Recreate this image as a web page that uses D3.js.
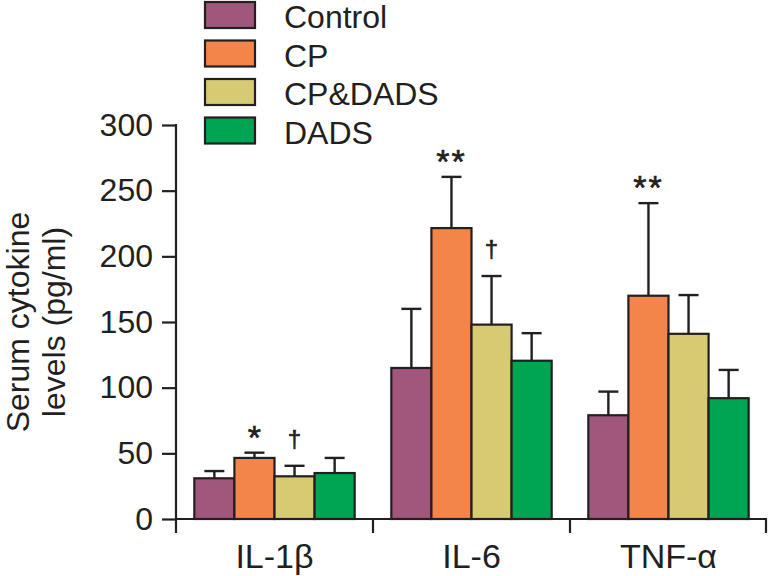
<!DOCTYPE html>
<html><head><meta charset="utf-8">
<script src="https://cdn.jsdelivr.net/npm/d3@7"></script>
<style>body{margin:0;background:#fff;} svg{display:block;font-family:"Liberation Sans",Arial,sans-serif;}</style>
</head><body>
<svg id="chart" width="768" height="576"></svg>
<script>
const categories = ["IL-1\u03B2", "IL-6", "TNF-\u03B1"];
const groups = ["Control", "CP", "CP&DADS", "DADS"];
const colors = ["#a1567b", "#f3854a", "#d6cb72", "#00a551"];
const meanControl = [31, 115, 79];
const meanCP = [46.5, 221.5, 170];
const meanCPDADS = [32.5, 148, 141];
const meanDADS = [35, 120.5, 92];
const errControl = [36.5, 160, 97];
const errCP = [50.5, 260.5, 240.5];
const errCPDADS = [40.5, 185, 170.5];
const errDADS = [46.5, 141.5, 113.5];
const markCP = ["*", "**", "**"];
const markCPDADS = ["\u2020", "\u2020", ""];
const yTicks = [0, 50, 100, 150, 200, 250, 300];

const means = [meanControl, meanCP, meanCPDADS, meanDADS];
const errs = [errControl, errCP, errCPDADS, errDADS];
const marks = [["","",""], markCP, markCPDADS, ["","",""]];

const svg = d3.select("#chart");
const ink = "#231f20";
const y = d3.scaleLinear().domain([0, 300]).range([519, 125]);
const x0 = d3.scaleBand().domain(categories).range([176, 767]).paddingInner(0.186).paddingOuter(0.093);
const x1 = d3.scaleBand().domain(groups).range([0, x0.bandwidth()]);

const data = [];
categories.forEach((c, ci) => groups.forEach((g, gi) => {
  data.push({c, g, gi, v: means[gi][ci], e: errs[gi][ci], m: marks[gi][ci]});
}));

const gBars = svg.append("g");
const eb = gBars.selectAll("g.eb").data(data).join("g");
eb.append("line")
  .attr("x1", d => x0(d.c) + x1(d.g) + x1.bandwidth()/2)
  .attr("x2", d => x0(d.c) + x1(d.g) + x1.bandwidth()/2)
  .attr("y1", d => y(d.v)).attr("y2", d => y(d.e))
  .attr("stroke", ink).attr("stroke-width", 2.4);
eb.append("line")
  .attr("x1", d => x0(d.c) + x1(d.g) + x1.bandwidth()/2 - 10)
  .attr("x2", d => x0(d.c) + x1(d.g) + x1.bandwidth()/2 + 10)
  .attr("y1", d => y(d.e)).attr("y2", d => y(d.e))
  .attr("stroke", ink).attr("stroke-width", 2.4);

gBars.selectAll("rect").data(data).join("rect")
  .attr("x", d => x0(d.c) + x1(d.g))
  .attr("y", d => y(d.v))
  .attr("width", x1.bandwidth())
  .attr("height", d => y(0) - y(d.v))
  .attr("fill", d => colors[d.gi])
  .attr("stroke", ink).attr("stroke-width", 2.2);

gBars.selectAll("text.mk").data(data.filter(d => d.m)).join("text")
  .attr("class", "mk")
  .attr("x", d => x0(d.c) + x1(d.g) + x1.bandwidth()/2)
  .attr("y", d => d.m === "\u2020" ? y(d.e) - 19 : y(d.e) - 4)
  .attr("text-anchor", "middle")
  .attr("font-size", d => d.m === "\u2020" ? 24 : 34)
  .attr("letter-spacing", d => d.m === "**" ? 2 : 0)
  .attr("fill", ink).attr("stroke", ink).attr("stroke-width", 0.6)
  .text(d => d.m);

const yAxis = d3.axisLeft(y).tickValues(yTicks).tickSize(14).tickPadding(9).tickSizeOuter(0);
const gy = svg.append("g").attr("transform", "translate(176,0)").call(yAxis);
gy.select(".domain").remove();
gy.append("line").attr("x1", 0).attr("x2", 0).attr("y1", y(300) - 1).attr("y2", 533)
  .attr("stroke", ink).attr("stroke-width", 2.2);
gy.selectAll(".tick line").attr("stroke", ink).attr("stroke-width", 2.2);
gy.selectAll(".tick text").attr("font-size", 32).attr("fill", ink)
  .attr("font-family", "Liberation Sans, Arial, sans-serif");

const gx = svg.append("g");
gx.append("line").attr("x1", 176).attr("x2", 767).attr("y1", y(0)).attr("y2", y(0))
  .attr("stroke", ink).attr("stroke-width", 2.2);
const bounds = categories.map(c => x0(c) + x0.bandwidth() + x0.step() * x0.paddingInner() / 2);
gx.selectAll("line.sep").data(bounds).join("line")
  .attr("x1", d => Math.min(d, 766)).attr("x2", d => Math.min(d, 766))
  .attr("y1", y(0)).attr("y2", 533)
  .attr("stroke", ink).attr("stroke-width", 2.2);
gx.selectAll("text").data(categories).join("text")
  .attr("x", d => x0(d) + x0.bandwidth()/2)
  .attr("y", 568)
  .attr("text-anchor", "middle")
  .attr("font-size", 34).attr("fill", ink)
  .text(d => d);

const yl = svg.append("text").attr("transform", "translate(0,322) rotate(-90)")
  .attr("text-anchor", "middle").attr("font-size", 32).attr("fill", ink);
yl.append("tspan").attr("x", 0).attr("y", 29).text("Serum cytokine");
yl.append("tspan").attr("x", 0).attr("y", 65).text("levels (pg/ml)");

const lg = svg.append("g").selectAll("g").data(groups).join("g")
  .attr("transform", (d, i) => `translate(205,${2 + i * 38.5})`);
lg.append("rect").attr("width", 50).attr("height", 26)
  .attr("fill", (d, i) => colors[i]).attr("stroke", ink).attr("stroke-width", 2.2);
lg.append("text").attr("x", 79).attr("y", 26).attr("font-size", 32).attr("fill", ink).text(d => d);
</script>
</body></html>
